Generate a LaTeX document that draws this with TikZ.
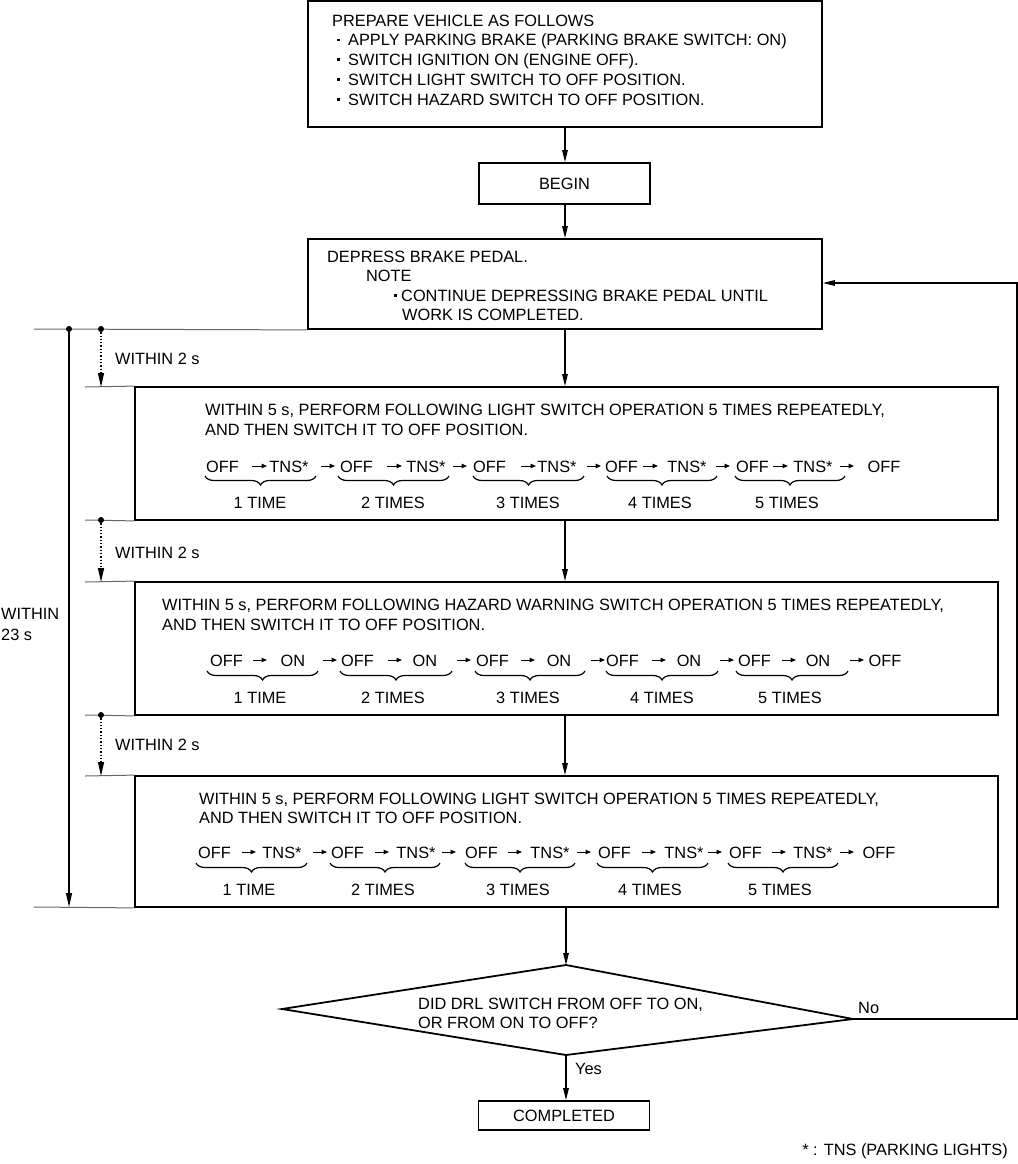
\documentclass[tikz,border=0pt]{standalone}
\usepackage{fontspec}
\setmainfont{Liberation Sans}
\usetikzlibrary{arrows.meta,decorations.pathreplacing}
\begin{document}
\begin{tikzpicture}[x=1bp,y=-1bp,
  box/.style={draw, line width=1.8bp, inner sep=0, font=\fontsize{16.4}{20}\selectfont},
  txt/.style={inner sep=0, anchor=base west, font=\fontsize{16.4}{20}\selectfont},
  ctxt/.style={inner sep=0, anchor=base, font=\fontsize{16.4}{20}\selectfont},
  conn/.style={line width=1.2bp, -{Triangle[length=12bp,width=5.5bp]}},
  iarrow/.style={line width=1bp, -{Triangle[length=5.5bp,width=4.5bp]}},
  brc/.style={decorate, decoration={brace, mirror, amplitude=9bp}, line width=1.2bp},
  guide/.style={line width=1bp, black!60},
  dotarrow/.style={line width=1.3bp, dotted, -{Triangle[length=14bp,width=6bp]}}]
\useasboundingbox (0,0) rectangle (1018,1164);

% ---- boxes ----
\node[box, minimum width=514bp, minimum height=126bp] (top) at (565,64) {};
\node[box, minimum width=171bp, minimum height=41bp] (begin) at (564.5,183.5) {BEGIN};
\node[box, minimum width=514bp, minimum height=90bp] (dep) at (565,284) {};
\node[box, minimum width=863bp, minimum height=133bp] (b1) at (566.5,453.5) {};
\node[box, minimum width=863bp, minimum height=133bp] (b2) at (566.5,648.5) {};
\node[box, minimum width=863bp, minimum height=131bp] (b3) at (566.5,841.5) {};
\node[box, minimum width=171bp, minimum height=29bp] (done) at (564,1115.5) {COMPLETED};

% diamond
\coordinate (dT) at (566,965);
\coordinate (dR) at (853,1019);
\coordinate (dB) at (566,1055);
\coordinate (dL) at (282,1009);
\draw[line width=1.8bp, line join=miter] (dT) -- (dR) -- (dB) -- (dL) -- cycle;

% ---- texts ----
\newcommand{\bl}{\makebox[11bp][l]{\raisebox{4.3bp}{\rule{2.7bp}{2.7bp}}}}
\node[txt] (t1) at (332,26) {PREPARE VEHICLE AS FOLLOWS};
\node[txt] (t2) at (337,45.5) {\bl APPLY PARKING BRAKE (PARKING BRAKE SWITCH: ON)};
\node[txt] (t3) at (337,65.3) {\bl SWITCH IGNITION ON (ENGINE OFF).};
\node[txt] (t4) at (337,85) {\bl SWITCH LIGHT SWITCH TO OFF POSITION.};
\node[txt] (t5) at (337,105) {\bl SWITCH HAZARD SWITCH TO OFF POSITION.};

\node[txt] (d1) at (327,262) {DEPRESS BRAKE PEDAL.};
\node[txt] (d2) at (366,281) {NOTE};
\node[txt] (d3) at (394,301) {\makebox[7bp][l]{\raisebox{4.3bp}{\rule{2.7bp}{2.7bp}}}CONTINUE DEPRESSING BRAKE PEDAL UNTIL};
\node[txt] (d4) at (402,320) {WORK IS COMPLETED.};

\node[txt] (h11) at (205,415) {WITHIN 5 s, PERFORM FOLLOWING LIGHT SWITCH OPERATION 5 TIMES REPEATEDLY,};
\node[txt] (h12) at (205,435) {AND THEN SWITCH IT TO OFF POSITION.};
\node[txt] (h21) at (162,610) {WITHIN 5 s, PERFORM FOLLOWING HAZARD WARNING SWITCH OPERATION 5 TIMES REPEATEDLY,};
\node[txt] (h22) at (162,630) {AND THEN SWITCH IT TO OFF POSITION.};
\node[txt] (h31) at (199,804) {WITHIN 5 s, PERFORM FOLLOWING LIGHT SWITCH OPERATION 5 TIMES REPEATEDLY,};
\node[txt] (h32) at (199,823) {AND THEN SWITCH IT TO OFF POSITION.};

\node[txt] (q1) at (418,1009) {DID DRL SWITCH FROM OFF TO ON,};
\node[txt] (q2) at (418,1028) {OR FROM ON TO OFF?};
\node[txt] (no) at (858,1013) {No};
\node[txt] (yes) at (575,1074) {Yes};
\node[inner sep=0, anchor=base east, font=\fontsize{16.4}{20}\selectfont] (foot) at (1008,1155) {* : TNS (PARKING LIGHTS)};

\node[txt] (w1) at (115,364) {WITHIN 2 s};
\node[txt] (w2) at (115,558) {WITHIN 2 s};
\node[txt] (w3) at (115,750) {WITHIN 2 s};
\node[txt] (w23a) at (1,619) {WITHIN};
\node[txt] (w23b) at (1,640) {23 s};

% ---- sequences ----
% box 1
\foreach \o/\a/\t/\b/\l/\r/\c/\n [count=\i] in
 {208/252/269/321/205/316/260/1 TIME, 342/387/406/453/338/449/393/2 TIMES,
  475/521/537/587/473/584/528/3 TIMES, 607/643/667/716/607/717/660/4 TIMES,
  738/773/793/840/735/845/787/5 TIMES}{
  \node[ctxt] (s1o\i) at (\o+14.5,472) {OFF};
  \draw[iarrow] (\a,466) -- (\a+15,466);
  \node[ctxt] (s1t\i) at (\t+20,472) {TNS*};
  \draw[iarrow] (\b,466) -- (\b+14,466);
  \draw[brc] (\l,476) -- (\r,476);
  \node[ctxt] (s1n\i) at (\c,508) {\n};
}
\node[ctxt] (s1f) at (884,472) {OFF};
% box 2
\foreach \o/\a/\t/\b/\l/\r/\c/\n [count=\i] in
 {212/253/281/323/207/318/260/1 TIME, 343/388/413/457/340/452/393/2 TIMES,
  478/521/547/591/475/585/528/3 TIMES, 608/652/677/720/606/718/662/4 TIMES,
  740/782/806/850/736/848/790/5 TIMES}{
  \node[ctxt] (s2o\i) at (\o+14.5,666) {OFF};
  \draw[iarrow] (\a,660) -- (\a+14,660);
  \node[ctxt] (s2t\i) at (\t+12,666) {ON};
  \draw[iarrow] (\b,660) -- (\b+14,660);
  \draw[brc] (\l,671) -- (\r,671);
  \node[ctxt] (s2n\i) at (\c,703) {\n};
}
\node[ctxt] (s2f) at (885,666) {OFF};
% box 3
\foreach \o/\a/\t/\b/\l/\r/\c/\n [count=\i] in
 {200/242/262/313/196/307/249/1 TIME, 333/375/396/442/330/440/383/2 TIMES,
  467/508/530/577/465/575/518/3 TIMES, 600/642/664/708/597/708/650/4 TIMES,
  731/772/793/840/728/838/780/5 TIMES}{
  \node[ctxt] (s3o\i) at (\o+14.5,858) {OFF};
  \draw[iarrow] (\a,852) -- (\a+14,852);
  \node[ctxt] (s3t\i) at (\t+20,858) {TNS*};
  \draw[iarrow] (\b,852) -- (\b+14,852);
  \draw[brc] (\l,863) -- (\r,863);
  \node[ctxt] (s3n\i) at (\c,895) {\n};
}
\node[ctxt] (s3f) at (879,858) {OFF};

% ---- connectors ----
\draw[conn] (top.south) -- (begin.north -| top.south);
\draw[conn] (begin.south -| top.south) -- (dep.north);
\draw[conn] (dep.south) -- (dep.south |- b1.north);
\draw[conn] (dep.south |- b1.south) -- (dep.south |- b2.north);
\draw[conn] (dep.south |- b2.south) -- (dep.south |- b3.north);
\draw[conn] (dT |- b3.south) -- (dT);
\draw[conn] (dB) -- (dB |- done.north);
\coordinate (nc1) at (1017,1019);
\coordinate (nc2) at (1017,283);
\draw[conn] (dR) -- (nc1) -- (nc2) -- (dep.east |- nc2);

% ---- timing marks ----
\coordinate (g0) at (34,329);
\coordinate (g7) at (34,907);
\draw[guide] (g0) -- (dep.south west);
\draw[guide] (g7) -- (b3.south west);
\foreach \y/\nm in {387/b1.north west, 520/b1.south west, 582/b2.north west, 715/b2.south west, 776/b3.north west}{
  \draw[guide] (85,\y) -- (\nm);
}
\coordinate (v0) at (69,329);
\coordinate (v1) at (69,907);
\fill (v0) circle (3bp);
\draw[line width=1.3bp, -{Triangle[length=14bp,width=6bp]}] (v0) -- (v1);
\foreach \ya/\yb [count=\k] in {329/387, 520/582, 715/776}{
  \coordinate (da\k) at (101,\ya);
  \coordinate (db\k) at (101,\yb);
  \fill (da\k) circle (3bp);
  \draw[dotarrow] (da\k) -- (db\k);
}
\end{tikzpicture}
\end{document}
